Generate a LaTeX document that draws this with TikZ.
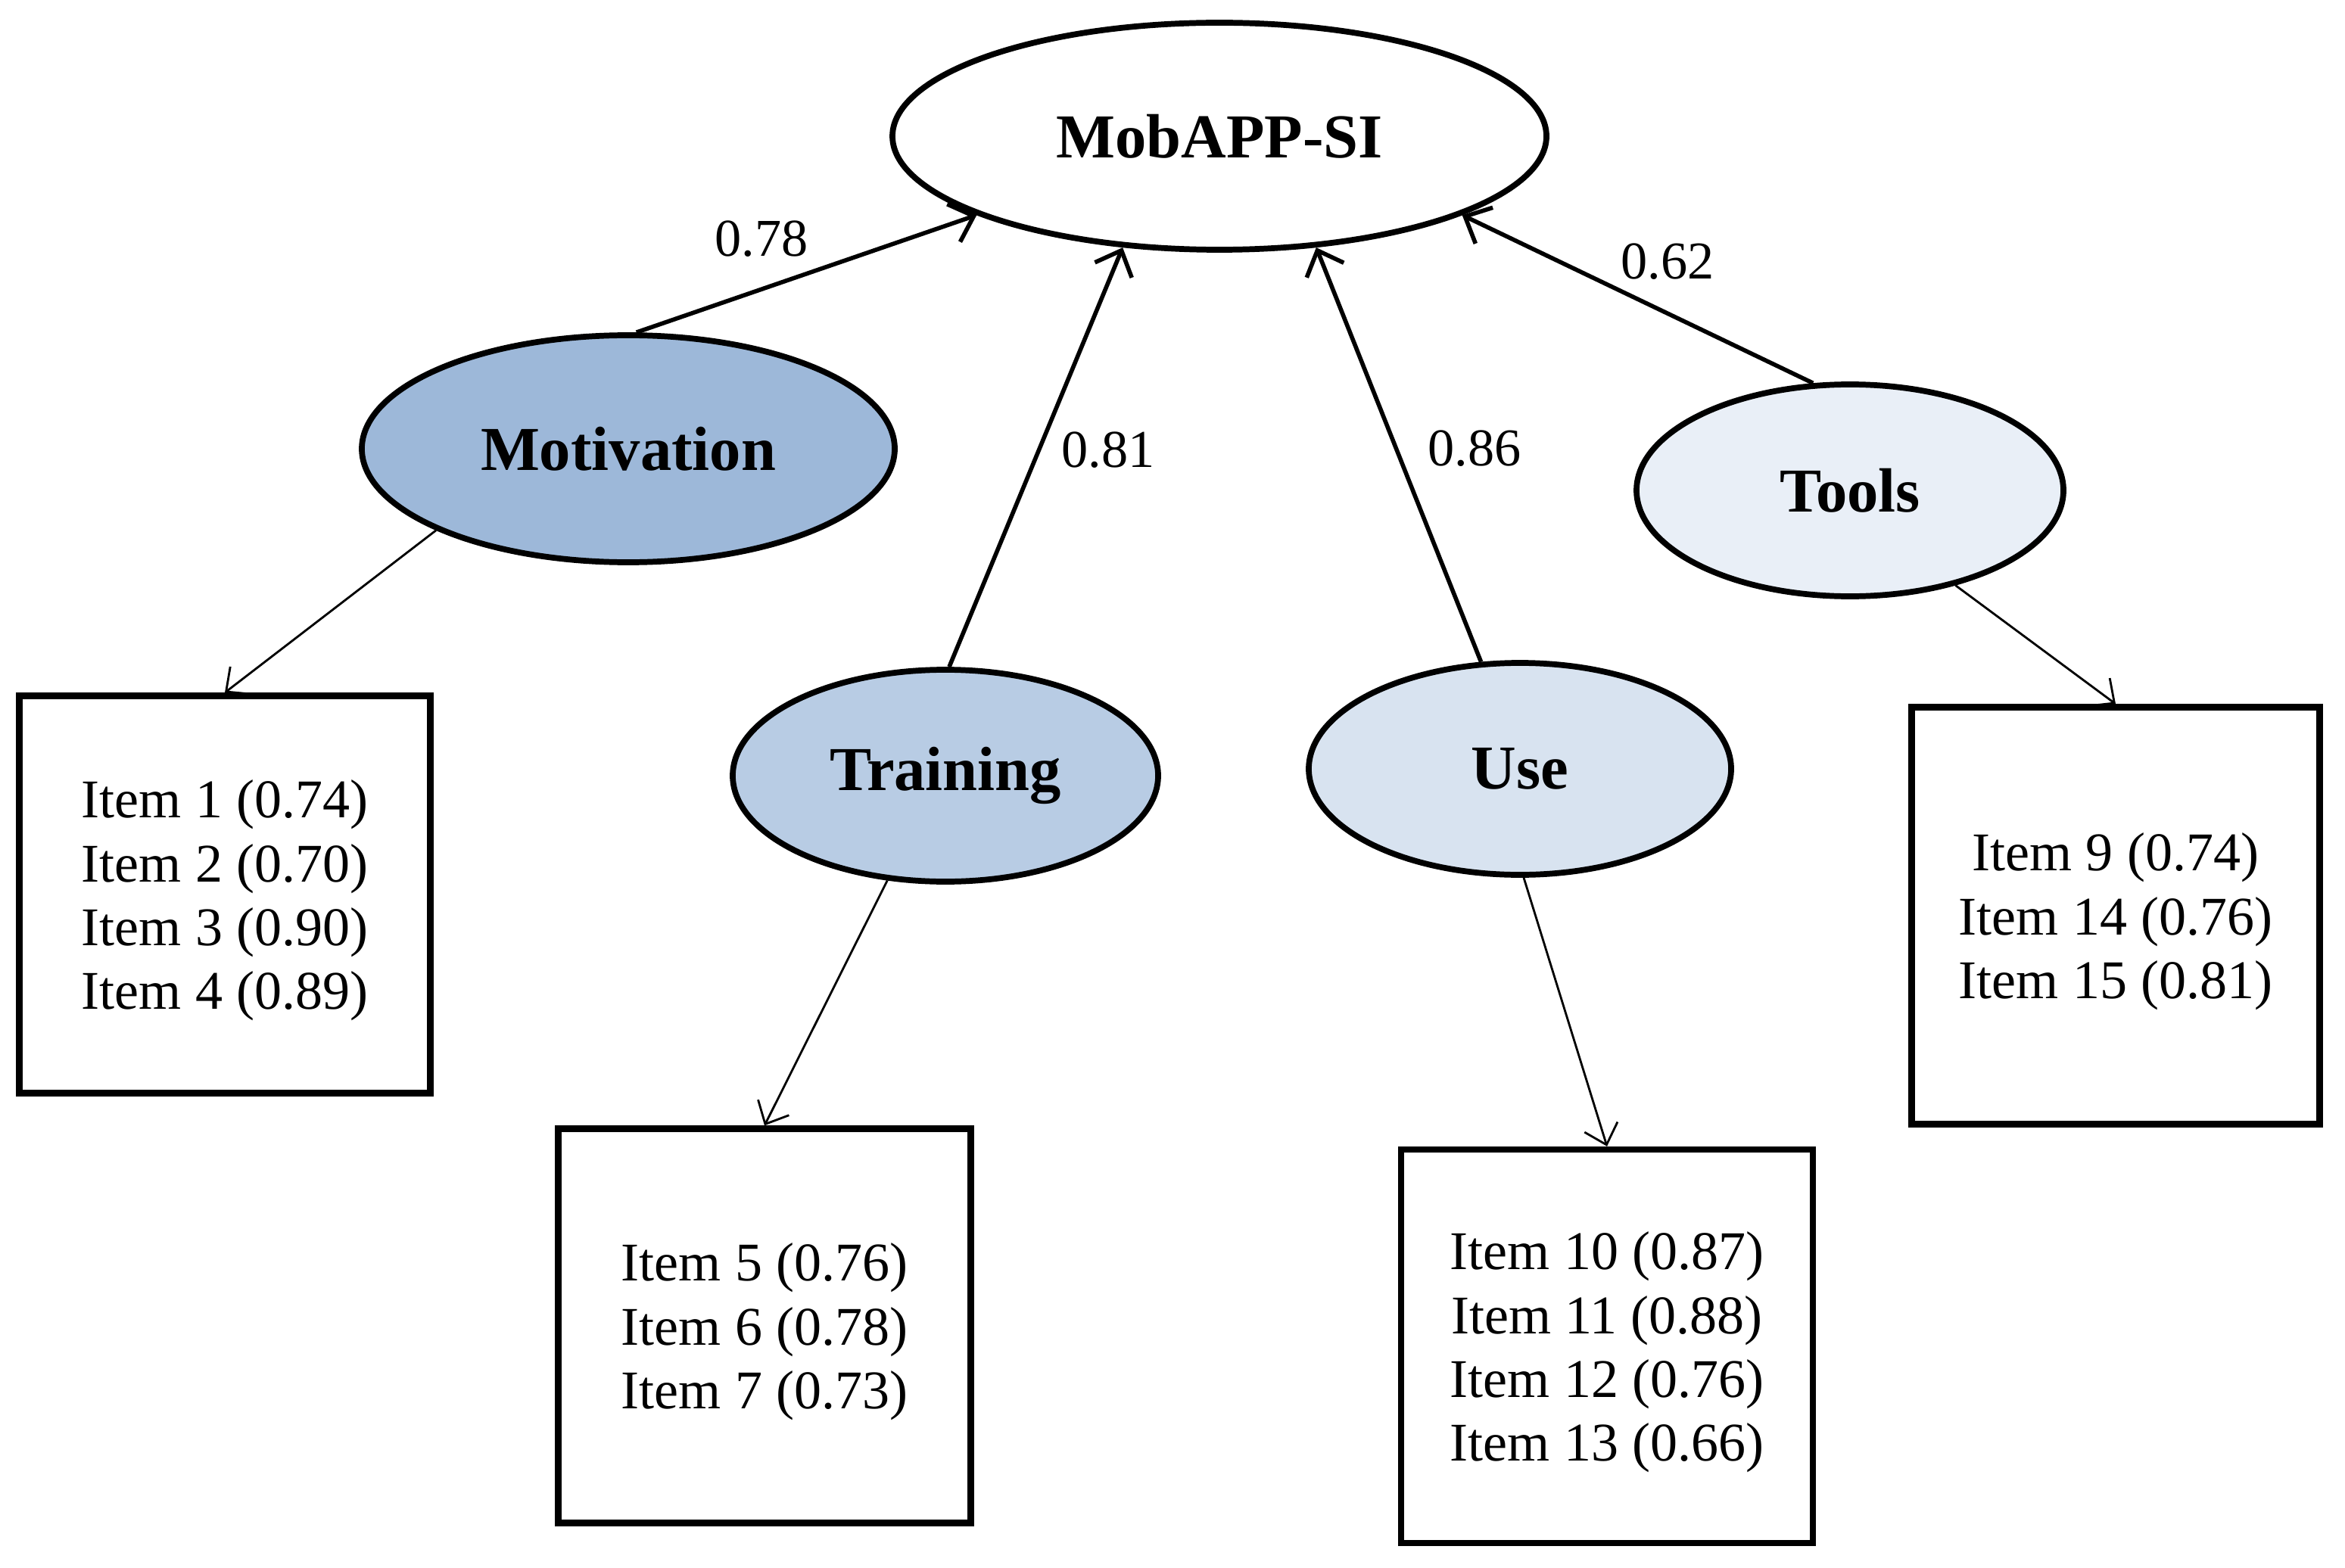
\documentclass[tikz,border=0pt]{standalone}
\usepackage{fontspec}
\setmainfont{Liberation Serif}
\usetikzlibrary{shapes.geometric,arrows.meta}
\definecolor{cMot}{HTML}{9DB8D9}
\definecolor{cTr}{HTML}{B8CCE4}
\definecolor{cUse}{HTML}{D8E3F0}
\definecolor{cTools}{HTML}{E9EFF7}
\tikzset{
  latent/.style={ellipse,draw=black,line width=2.2pt,inner sep=0pt,font=\fontsize{23.5}{28}\selectfont\bfseries},
  itembox/.style={rectangle,draw=black,line width=2.4pt,inner sep=0pt},
  itemtext/.style={inner sep=0pt,align=center,font=\fontsize{20.5}{24}\selectfont},
  load/.style={font=\fontsize{20}{24}\selectfont,inner sep=0pt},
  up/.style={line width=1.6pt,-{Straight Barb[length=8pt,width=15pt,line width=1.6pt]}},
  down/.style={line width=0.8pt,-{Straight Barb[length=7pt,width=13pt,line width=0.8pt]}}
}
\begin{document}
\begin{tikzpicture}
\useasboundingbox (0,0) rectangle (30.98,20.71);
\node[latent,fill=white,minimum width=8.64cm,minimum height=3.00cm] (mob) at (16.11,18.91) {MobAPP-SI};
\node[latent,fill=cMot,minimum width=7.04cm,minimum height=3.00cm] (mot) at (8.30,14.78) {Motivation};
\node[latent,fill=cTr,minimum width=5.62cm,minimum height=2.80cm] (tr) at (12.49,10.46) {Training};
\node[latent,fill=cUse,minimum width=5.58cm,minimum height=2.80cm] (use) at (20.08,10.55) {Use};
\node[latent,fill=cTools,minimum width=5.64cm,minimum height=2.80cm] (tools) at (24.44,14.23) {Tools};

\node[itembox,minimum width=5.43cm,minimum height=5.25cm] (box1) at (2.97,8.89) {};
\node[itembox,minimum width=5.45cm,minimum height=5.21cm] (box2) at (10.10,3.19) {};
\node[itembox,minimum width=5.44cm,minimum height=5.20cm] (box3) at (21.23,2.92) {};
\node[itembox,minimum width=5.39cm,minimum height=5.51cm] (box4) at (27.95,8.61) {};

\node[itemtext] (t1) at ([yshift=-0.08cm]box1.center) {Item 1 (0.74)\\Item 2 (0.70)\\Item 3 (0.90)\\Item 4 (0.89)};
\node[itemtext] (t2) at ([yshift=-0.08cm]box2.center) {Item 5 (0.76)\\Item 6 (0.78)\\Item 7 (0.73)};
\node[itemtext] (t3) at ([yshift=-0.08cm]box3.center) {Item 10 (0.87)\\Item 11 (0.88)\\Item 12 (0.76)\\Item 13 (0.66)};
\node[itemtext] (t4) at ([yshift=-0.08cm]box4.center) {Item 9 (0.74)\\Item 14 (0.76)\\Item 15 (0.81)};

\draw[up] (mot.86) -- (mob.198);
\draw[up] (tr.88) -- (mob.229);
\draw[up] (use.110) -- (mob.311);
\draw[up] (tools.109) -- (mob.342);

\draw[down] (mot.203) -- (box1.north);
\draw[down] (tr.241) -- (box2.north);
\draw[down] (use.272) -- (box3.north);
\draw[down] (tools.318) -- (box4.north);

\node[load] (l78) at (10.06,17.55) {0.78};
\node[load] (l81) at (14.64,14.76) {0.81};
\node[load] (l86) at (19.48,14.78) {0.86};
\node[load] (l62) at (22.03,17.25) {0.62};
\end{tikzpicture}
\end{document}
